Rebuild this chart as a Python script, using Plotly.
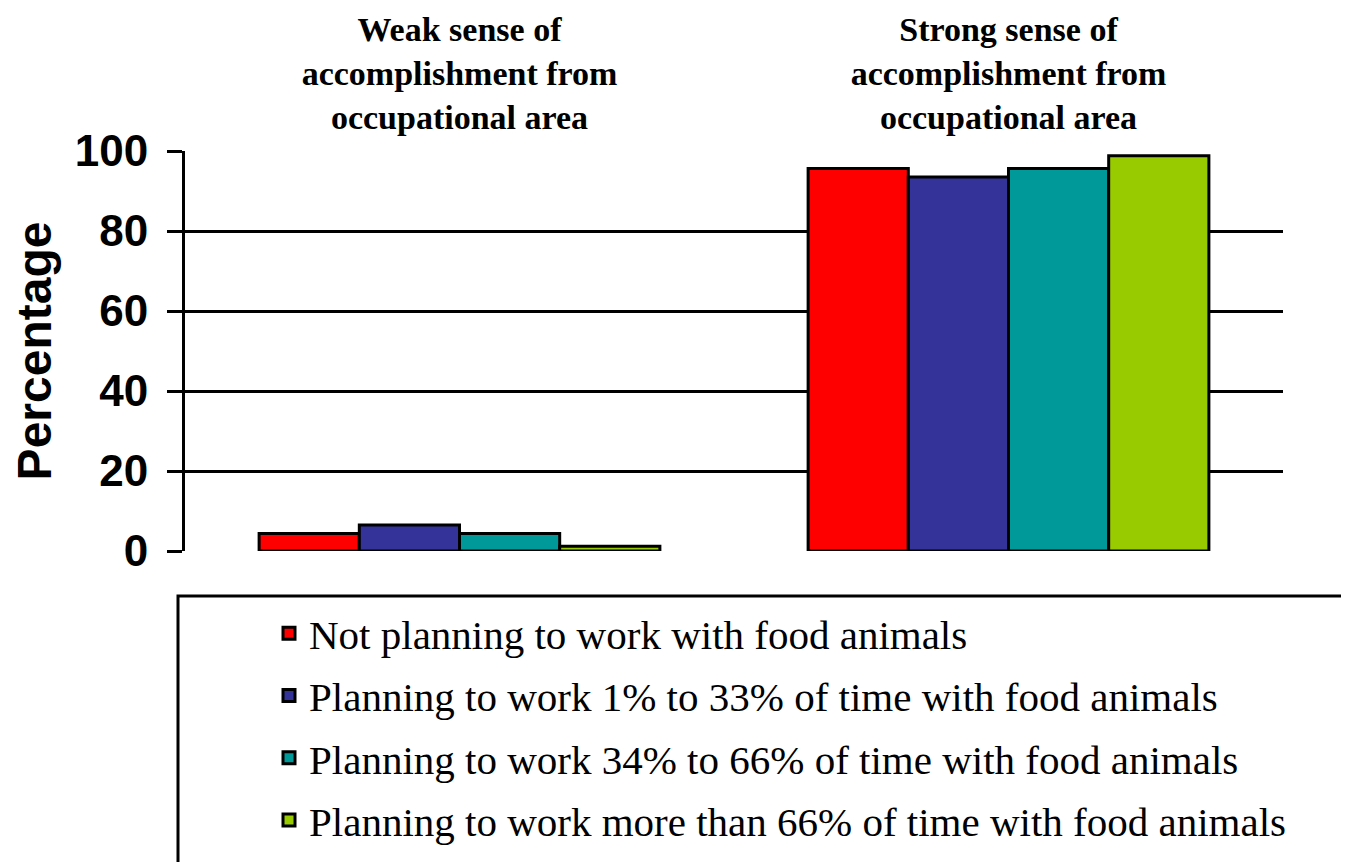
import plotly.graph_objects as go

categories = [
    "Weak sense of<br>accomplishment from<br>occupational area",
    "Strong sense of<br>accomplishment from<br>occupational area",
]
series_names = [
    "Not planning to work with food animals",
    "Planning to work 1% to 33% of time with food animals",
    "Planning to work 34% to 66% of time with food animals",
    "Planning to work more than 66% of time with food animals",
]
not_planning = [4.4, 95.6]
plan_1_33 = [6.5, 93.5]
plan_34_66 = [4.4, 95.6]
plan_over_66 = [1.2, 98.8]
series_values = [not_planning, plan_1_33, plan_34_66, plan_over_66]
colors = ["#FF0000", "#333399", "#009999", "#99CC00"]
y_ticks = [0, 20, 40, 60, 80, 100]

fig = go.Figure()
for i, (name, vals, col) in enumerate(zip(series_names, series_values, colors)):
    fig.add_trace(go.Bar(
        x=categories, y=vals, name=name,
        marker=dict(color=col, line=dict(color="black", width=3)),
        legendgroup=f"g{i}",
    ))

OFF = 8  # page body margin
W, H = 1349 - OFF, 862 - OFF
L, T = 185 - OFF, 151 - OFF
R = W - (1283 - OFF)
B = H - (551 - OFF)
pw = W - L - R
ph = H - T - B

def px_x(p):
    return (p - OFF - L) / pw

def px_y(p):
    return (H - B - (p - OFF)) / ph

fig.update_layout(
    width=W, height=H,
    margin=dict(l=L, r=R, t=T, b=B, pad=0, autoexpand=False),
    plot_bgcolor="white", paper_bgcolor="white",
    barmode="group", bargap=0.27, bargroupgap=0,
    showlegend=True,
    legend=dict(
        x=px_x(269), y=px_y(600), xanchor="left", yanchor="top",
        font=dict(family="Liberation Serif, Times New Roman, serif", size=41, color="black"),
        bgcolor="rgba(0,0,0,0)", borderwidth=0,
        tracegroupgap=6, traceorder="grouped",
    ),
    xaxis=dict(
        side="top", showline=False, showgrid=False, ticks="", automargin=False,
        ticklabelstandoff=14,
        tickfont=dict(family="Liberation Serif, Times New Roman, serif", size=34,
                      color="black", weight="bold"),
    ),
    yaxis=dict(
        range=[0, 100], tickvals=y_ticks, showgrid=True, gridcolor="black", gridwidth=3,
        zeroline=False, showline=True, linecolor="black", linewidth=3, automargin=False,
        ticks="outside", ticklen=15, tickwidth=3, tickcolor="black",
        ticklabelstandoff=10,
        tickfont=dict(family="Liberation Sans, Arial", size=44, color="black", weight="bold"),
        title=dict(text="Percentage", standoff=26,
                   font=dict(family="Liberation Sans, Arial", size=48, color="black",
                             weight="bold")),
    ),
    shapes=[dict(
        type="rect", xref="paper", yref="paper",
        x0=px_x(178), x1=px_x(1370), y0=px_y(596), y1=px_y(880),
        line=dict(color="black", width=3), fillcolor="rgba(0,0,0,0)", layer="below",
    )],
)

fig.write_html("out.html")
